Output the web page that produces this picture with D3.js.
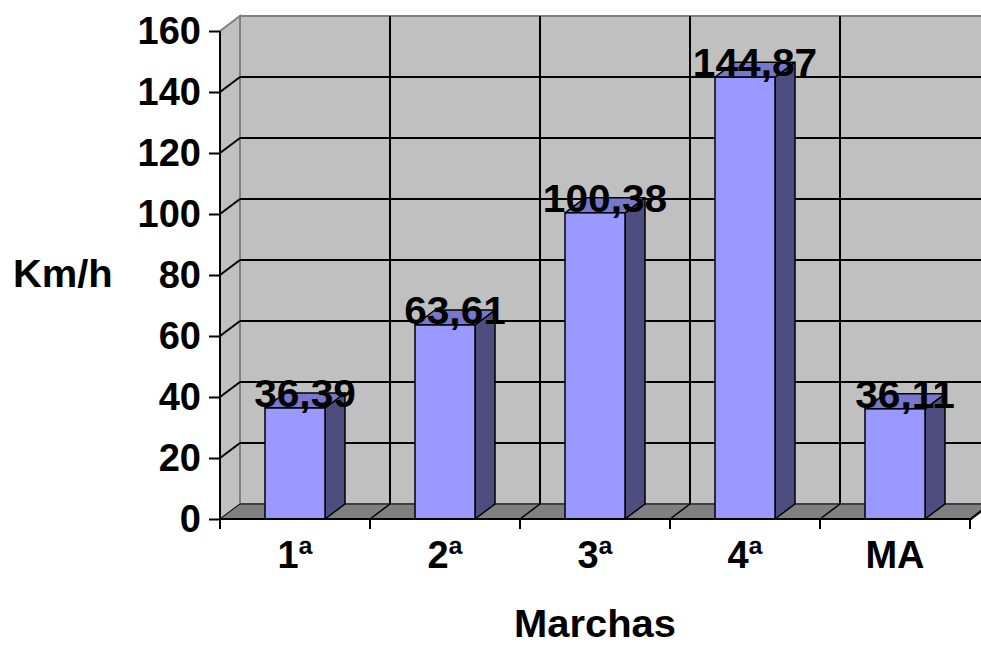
<!DOCTYPE html>
<html>
<head>
<meta charset="utf-8">
<script src="https://cdn.jsdelivr.net/npm/d3@7"></script>
<style>
  html, body { margin: 0; padding: 0; background: #ffffff; }
  svg { display: block; }
  text { font-family: Arial, "Liberation Sans", sans-serif; font-weight: bold; fill: #000; }
</style>
</head>
<body>
<svg id="chart" width="981" height="646"></svg>
<script>
// Gear speeds (km/h)
const categories = ["1ª", "2ª", "3ª", "4ª", "MA"];
const speeds = [36.39, 63.61, 100.38, 144.87, 36.11];
const yTicks = [0, 20, 40, 60, 80, 100, 120, 140, 160];
const valueLabels = ["36,39", "63,61", "100,38", "144,87", "36,11"];

(function () {
  const svg = d3.select("#chart");

  // plot frame (front plane) and 3D depth offset
  const plotL = 220, plotR = 970, plotT = 31, plotB = 519;
  const dx = 20, dy = 15;

  const x = d3.scaleBand().domain(categories).range([plotL, plotR]).padding(0);
  const y = d3.scaleLinear().domain([0, 160]).range([plotB, plotT]);

  const wallFill = "#c0c0c0", wallEdge = "#808080", floorFill = "#808080";
  const frontC = "#9999ff", sideC = "#4d4d80", topC = "#7777cc";
  const FONT = "Arial, 'Liberation Sans', sans-serif";

  const g = svg.append("g");

  // back wall
  const backRight = plotR + 2 + dx + 10;
  g.append("rect")
    .attr("x", plotL + dx).attr("y", plotT - dy)
    .attr("width", backRight - (plotL + dx)).attr("height", plotB - plotT)
    .attr("fill", wallFill).attr("stroke", wallEdge).attr("stroke-width", 2);

  // left side wall
  g.append("path")
    .attr("d", `M${plotL},${plotT}L${plotL + dx},${plotT - dy}L${plotL + dx},${plotB - dy}L${plotL},${plotB}Z`)
    .attr("fill", wallFill).attr("stroke", wallEdge).attr("stroke-width", 2);

  // floor
  const floorRight = plotR + 2;
  g.append("path")
    .attr("d", `M${plotL},${plotB}L${floorRight},${plotB}L${floorRight + dx},${plotB - dy}L${plotL + dx},${plotB - dy}Z`)
    .attr("fill", floorFill).attr("stroke", "#000").attr("stroke-width", 1);

  // horizontal gridlines on back wall and side wall
  const inner = yTicks.filter(t => t > 0 && t < 160);
  g.selectAll(".hgrid").data(inner).join("line")
    .attr("x1", plotL + dx).attr("x2", backRight)
    .attr("y1", d => y(d) - dy).attr("y2", d => y(d) - dy)
    .attr("stroke", "#000").attr("stroke-width", 2);
  g.selectAll(".sgrid").data(inner).join("line")
    .attr("x1", plotL).attr("x2", plotL + dx)
    .attr("y1", d => y(d)).attr("y2", d => y(d) - dy)
    .attr("stroke", "#000").attr("stroke-width", 2);

  // vertical gridlines at category boundaries on back wall, and floor diagonals
  const bounds = categories.slice(1).map(c => x(c));
  bounds.push(plotR);
  g.selectAll(".vgrid").data(bounds).join("line")
    .attr("x1", d => d + dx).attr("x2", d => d + dx)
    .attr("y1", plotT - dy).attr("y2", plotB - dy)
    .attr("stroke", "#000").attr("stroke-width", 2);
  g.selectAll(".fgrid").data(bounds).join("line")
    .attr("x1", d => d).attr("x2", d => d + dx)
    .attr("y1", plotB).attr("y2", plotB - dy)
    .attr("stroke", "#000").attr("stroke-width", 1.5);

  // bars
  const barW = x.bandwidth() * 0.4;
  const rows = categories.map((c, i) => ({ c, v: speeds[i], label: valueLabels[i] }));
  const bars = g.selectAll(".bar").data(rows).join("g").attr("class", "bar");
  bars.each(function (d) {
    const s = d3.select(this);
    const x0 = x(d.c) + (x.bandwidth() - barW) / 2;
    const x1 = x0 + barW;
    const yt = y(d.v);
    s.append("path")
      .attr("d", `M${x1},${plotB}L${x1 + dx},${plotB - dy}L${x1 + dx},${yt - dy}L${x1},${yt}Z`)
      .attr("fill", sideC).attr("stroke", "#000").attr("stroke-width", 1.5).attr("stroke-linejoin", "round");
    s.append("path")
      .attr("d", `M${x0},${yt}L${x0 + dx},${yt - dy}L${x1 + dx},${yt - dy}L${x1},${yt}Z`)
      .attr("fill", topC).attr("stroke", "#000").attr("stroke-width", 1.5).attr("stroke-linejoin", "round");
    s.append("rect")
      .attr("x", x0).attr("y", yt).attr("width", barW).attr("height", plotB - yt)
      .attr("fill", frontC).attr("stroke", "#000").attr("stroke-width", 1.5);
  });

  // y axis
  const yAxis = g.append("g").attr("transform", `translate(${plotL},0)`)
    .call(d3.axisLeft(y).tickValues(yTicks).tickSize(11).tickPadding(8).tickFormat(d3.format("d")));
  yAxis.select(".domain").attr("stroke", "#000").attr("stroke-width", 2).attr("d", `M0,${plotT}V${plotB}`);
  yAxis.selectAll(".tick line").attr("stroke", "#000").attr("stroke-width", 2);
  yAxis.selectAll(".tick text").attr("font-size", 38).attr("font-family", FONT).attr("font-weight", "bold").attr("fill", "#000");

  // x axis
  const xAxis = g.append("g").attr("transform", `translate(0,${plotB})`)
    .call(d3.axisBottom(x).tickSize(0).tickPadding(22));
  xAxis.select(".domain").attr("stroke", "#000").attr("stroke-width", 2).attr("d", `M${plotL},0H${floorRight}`);
  xAxis.selectAll(".tick text").attr("font-size", 38).attr("font-family", FONT).attr("font-weight", "bold").attr("fill", "#000").attr("dy", "0.71em");
  xAxis.selectAll(".btick").data([plotL, ...bounds]).join("line")
    .attr("x1", d => d).attr("x2", d => d).attr("y1", 0).attr("y2", 10)
    .attr("stroke", "#000").attr("stroke-width", 2);

  // value labels (slightly wide lettering)
  bars.append("text")
    .attr("transform", d => `translate(${x(d.c) + x.bandwidth() / 2 + 10},${y(d.v) - 1}) scale(1.07,1)`)
    .attr("text-anchor", "middle")
    .attr("font-size", 38)
    .text(d => d.label);

  // axis titles
  svg.append("text").attr("transform", "translate(13,287) scale(1.05,1)").attr("font-size", 38).text("Km/h");
  svg.append("text").attr("transform", "translate(595,637) scale(1.05,1)").attr("text-anchor", "middle").attr("font-size", 38).text("Marchas");
})();
</script>
</body>
</html>
